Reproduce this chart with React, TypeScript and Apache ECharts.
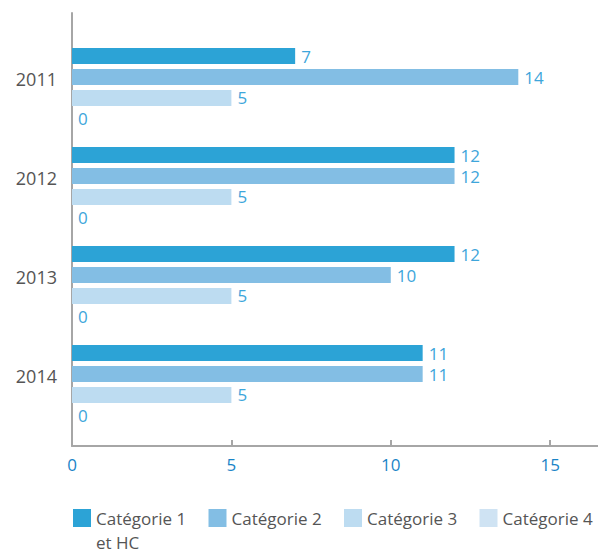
import React, { useEffect, useRef } from "react";
import * as echarts from "echarts";

const years = ["2011", "2012", "2013", "2014"];
const seriesNames = ["Catégorie 1", "Catégorie 2", "Catégorie 3", "Catégorie 4"];
const legendSecondLines = ["et HC", " ", " ", " "];
const cat1 = [7, 12, 12, 11];
const cat2 = [14, 12, 10, 11];
const cat3 = [5, 5, 5, 5];
const cat4 = [0, 0, 0, 0];
const colors = ["#2ca3d6", "#83bee4", "#bddcf1", "#cfe3f3"];
const xTicks = [0, 5, 10, 15];

const FONT = "'Open Sans', 'Noto Sans', sans-serif";

export default function App() {
  const ref = useRef<HTMLDivElement>(null);
  useEffect(() => {
    document.body.style.margin = "0";
    if (!ref.current) return;
    const chart = echarts.init(ref.current, undefined, { renderer: "svg" });
    const values = [cat1, cat2, cat3, cat4];
    const option: any = {
      animation: false,
      textStyle: { fontFamily: FONT },
      grid: [
        { left: 72, right: 0, top: 38, height: 396 },
        { left: 72, right: 0, top: 13, height: 433 },
      ],
      xAxis: [
        { gridIndex: 0, type: "value", min: 0, max: 16.5, show: false },
        {
          gridIndex: 1,
          type: "value",
          min: 0,
          max: 16.5,
          interval: 5,
          axisLine: { show: true, lineStyle: { color: "#a6a6a6", width: 2 } },
          axisTick: {
            show: true,
            inside: true,
            length: 6,
            customValues: xTicks,
            lineStyle: { color: "#a6a6a6", width: 2 },
          },
          splitLine: { show: false },
          axisLabel: {
            color: "#1a84c7",
            fontSize: 17,
            fontFamily: FONT,
            margin: 10,
            customValues: xTicks,
            formatter: (v: number) => (xTicks.indexOf(v) >= 0 ? String(v) : ""),
          },
        },
      ],
      yAxis: [
        {
          gridIndex: 0,
          type: "category",
          inverse: true,
          data: years,
          axisLine: { show: false },
          axisTick: { show: false },
          axisLabel: {
            color: "#555555",
            fontSize: 18,
            fontFamily: FONT,
            margin: 15,
            verticalAlign: "bottom",
          },
        },
        {
          gridIndex: 1,
          type: "category",
          data: [""],
          axisLine: { show: true, lineStyle: { color: "#a6a6a6", width: 2 } },
          axisTick: { show: false },
          axisLabel: { show: false },
        },
      ],
      legend: {
        left: 73,
        top: 482,
        width: 525,
        padding: 0,
        itemWidth: 18,
        itemHeight: 18,
        itemGap: 7.5,
        icon: "rect",
        textStyle: {
          color: "#555555",
          fontSize: 17,
          fontFamily: FONT,
          width: 105,
          lineHeight: 24,
        },
        formatter: (name: string) =>
          " \n" + name + "\n" + legendSecondLines[seriesNames.indexOf(name)],
        data: [
          seriesNames[0],
          seriesNames[1],
          seriesNames[2],
          { name: seriesNames[3], textStyle: { width: 92 } },
        ],
      },
      series: seriesNames.map((name, i) => ({
        name,
        type: "bar",
        xAxisIndex: 0,
        yAxisIndex: 0,
        data: values[i],
        barWidth: 16,
        barGap: "31%",
        itemStyle: { color: colors[i] },
        label: {
          show: true,
          position: "right",
          distance: 6,
          color: "#3ea6db",
          fontSize: 17,
          fontFamily: FONT,
        },
      })),
    };
    chart.setOption(option);
    return () => chart.dispose();
  }, []);
  return <div ref={ref} style={{ width: 598, height: 549 }} />;
}
